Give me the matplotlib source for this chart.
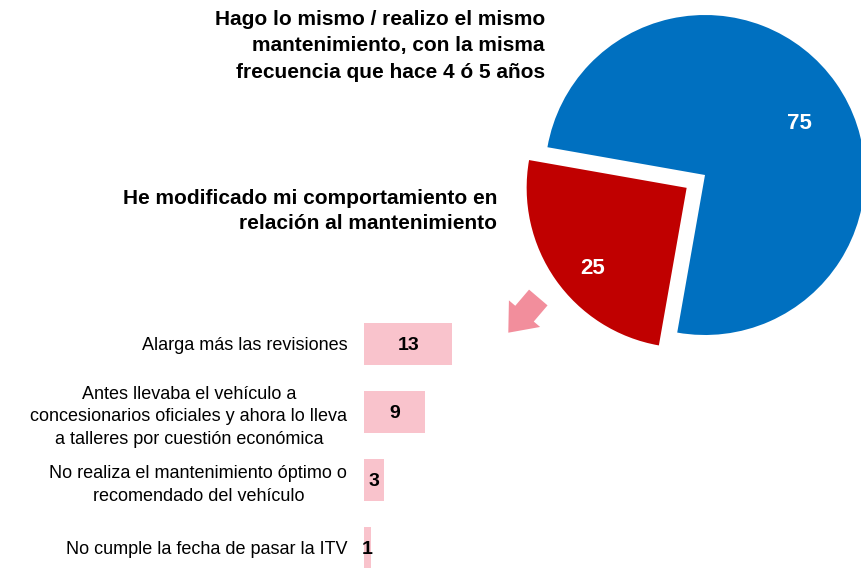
import matplotlib
matplotlib.use('Agg')
import matplotlib.pyplot as plt
from matplotlib.patches import FancyArrowPatch

plt.rcParams['font.family'] = ['Liberation Sans', 'DejaVu Sans']

# pie data
pie_values = [75, 25]
pie_colors = ['#0070C0', '#C00000']
pie_labels = ['Hago lo mismo / realizo el mismo\nmantenimiento, con la misma\nfrecuencia que hace 4 ó 5 años',
              'He modificado mi comportamiento en\nrelación al mantenimiento']

# breakdown of the 25
bar_labels = ['Alarga más las revisiones',
              'Antes llevaba el vehículo a\nconcesionarios oficiales y ahora lo lleva\na talleres por cuestión económica',
              'No realiza el mantenimiento óptimo o\nrecomendado del vehículo',
              'No cumple la fecha de pasar la ITV']
bar_values = [13, 9, 3, 1]

W, H = 861, 568
fig = plt.figure(figsize=(W / 100, H / 100), dpi=100)


def box(left, top, width, height):
    # pixel box (top-left origin) -> figure fraction rect
    return [left / W, (H - top - height) / H, width / W, height / H]


# pie: centre (705, 175), radius 160 px
ax_pie = fig.add_axes(box(505, -25, 400, 400))
wedges, texts, autotexts = ax_pie.pie(pie_values, colors=pie_colors, startangle=-100,
                                      explode=[0, 0.14], autopct=lambda p: f'{p:.0f}',
                                      pctdistance=0.72,
                                      textprops=dict(color='white', fontsize=16, fontweight='bold'))
# labels sit a little lower in the original
for t in autotexts:
    x, yy = t.get_position()
    t.set_position((x, yy - 0.09))
ax_pie.set_xlim(-1.25, 1.25)
ax_pie.set_ylim(-1.25, 1.25)
ax_pie.set_aspect('equal')

fig.text(545 / W, 1 - 46 / H, pie_labels[0], ha='right', va='center', fontsize=15,
         fontweight='bold', linespacing=1.5)
fig.text(497 / W, 1 - 211 / H, pie_labels[1], ha='right', va='center', fontsize=15,
         fontweight='bold', linespacing=1.45)

# short fat arrow from the red slice down to the bars
arrow = FancyArrowPatch((5.383, (H - 297.5) / 100), (5.083, (H - 332.7) / 100),
                        arrowstyle='simple,head_length=1.8,head_width=2.95,tail_width=1.75',
                        mutation_scale=10, shrinkA=0, shrinkB=0,
                        transform=fig.dpi_scale_trans, color='#F28E9C', lw=0)
fig.add_artist(arrow)

# bars
ax_bar = fig.add_axes(box(364, 310, 136, 272))
y = range(len(bar_values))
bars = ax_bar.barh(y, bar_values, height=0.63, color='#F9C3CC')
labels = ax_bar.bar_label(bars, label_type='center', fontsize=14, fontweight='bold')
for t in labels:
    t.set_va('center_baseline')
ax_bar.set_xlim(0, 20)
ax_bar.set_ylim(3.5, -0.5)
ax_bar.set_yticks(list(y))
ax_bar.set_yticklabels(bar_labels, fontsize=13)
for t in ax_bar.get_yticklabels():
    t.set_multialignment('center')
    t.set_linespacing(1.45)
ax_bar.tick_params(axis='y', length=0, pad=12)
ax_bar.set_xticks([])
for s in ax_bar.spines.values():
    s.set_visible(False)
ax_bar.patch.set_alpha(0)

fig.savefig('out.png', dpi=100)
